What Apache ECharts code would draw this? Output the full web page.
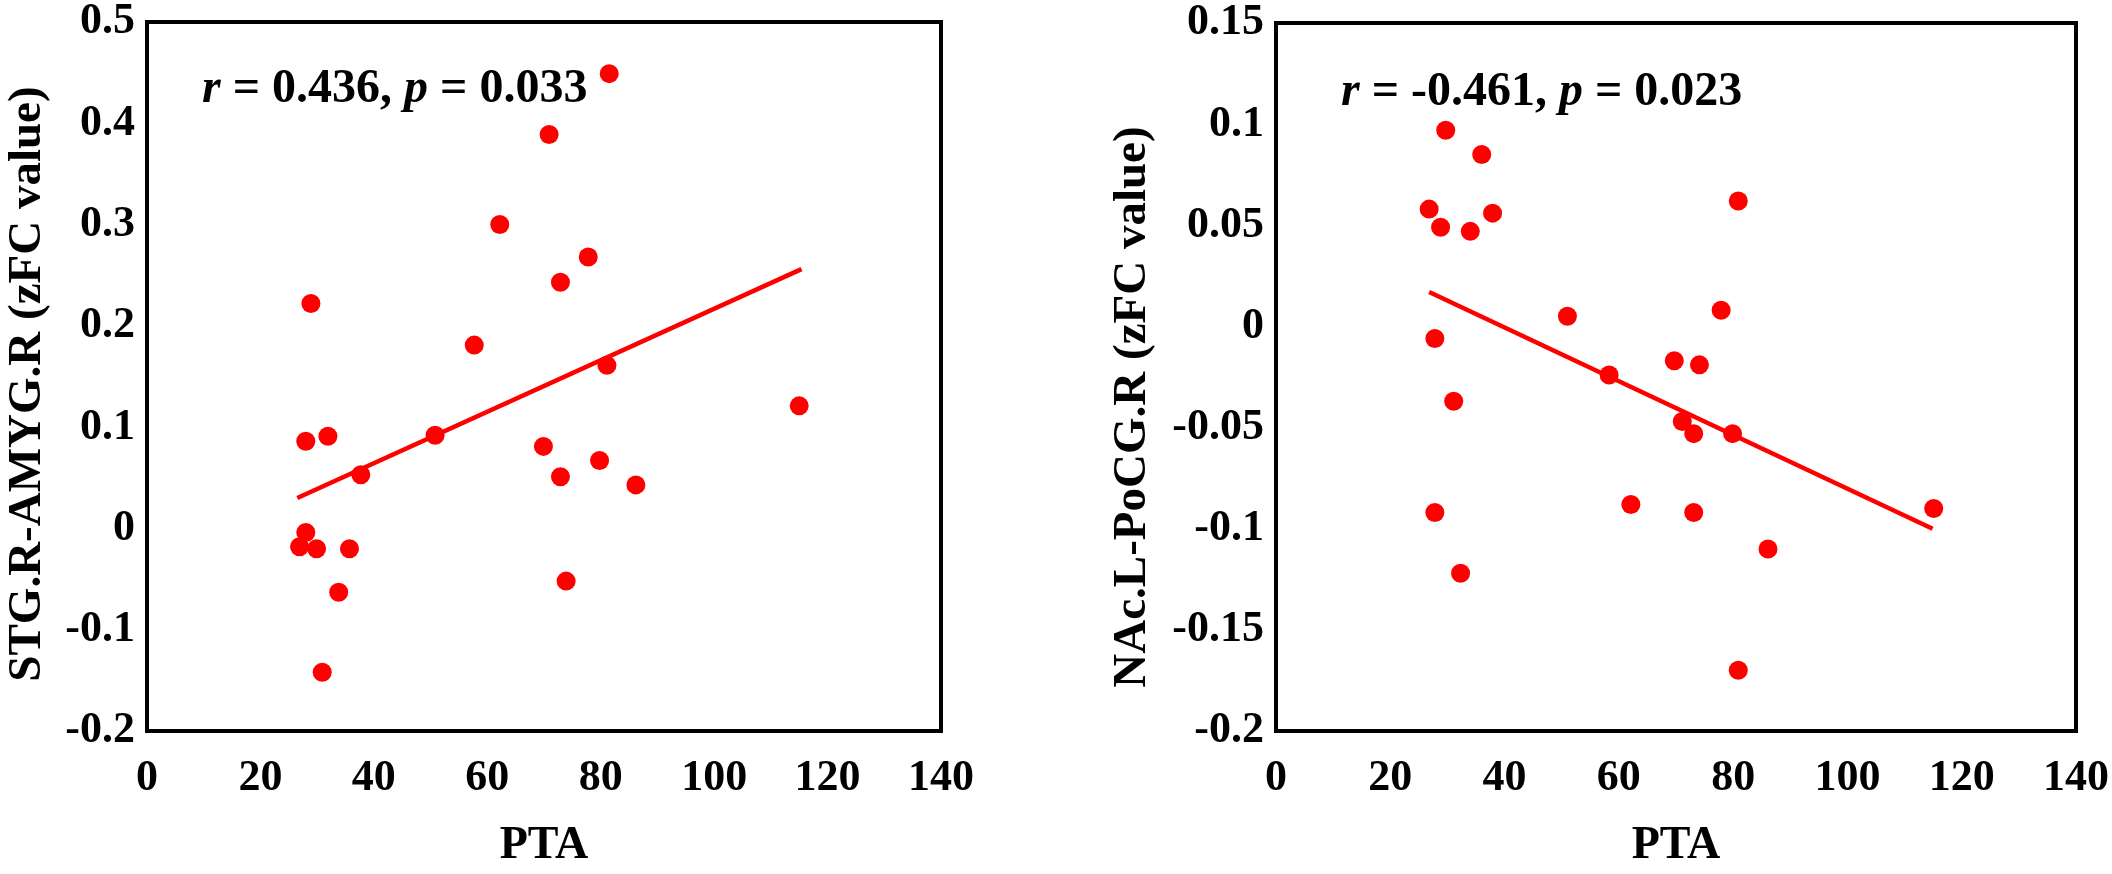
<!DOCTYPE html>
<html>
<head>
<meta charset="utf-8">
<script src="https://cdn.jsdelivr.net/npm/echarts@6.0.0/dist/echarts.min.js"></script>
<style>
html,body{margin:0;padding:0;background:#fff;}
#chart{width:2112px;height:874px;}
</style>
</head>
<body>
<div id="chart"></div>
<script>
// ---- data ----
const leftPTA = [81.5, 70.9, 62.2, 77.8, 72.9, 28.9, 57.7, 81.1, 28.0, 31.9, 50.8, 69.9,
                 79.8, 37.7, 72.9, 86.2, 28.0, 26.9, 29.9, 35.7, 33.8, 73.9, 30.9, 115.0];
const leftZFC = [0.449, 0.389, 0.300, 0.268, 0.243, 0.222, 0.181, 0.161, 0.086, 0.091, 0.092, 0.081,
                 0.067, 0.053, 0.051, 0.043, -0.004, -0.018, -0.020, -0.020, -0.063, -0.052, -0.142, 0.121];
const leftFitPTA = [26.5, 115.4];
const leftFitZFC = [0.030, 0.256];

const rightPTA = [29.7, 36.0, 26.8, 28.8, 34.0, 37.9, 51.0, 27.8, 31.1, 27.8, 32.3, 77.9,
                  80.9, 69.7, 74.1, 58.3, 71.1, 73.1, 79.9, 62.1, 73.1, 115.1, 86.1, 80.9];
const rightZFC = [0.097, 0.085, 0.058, 0.049, 0.047, 0.056, 0.005, -0.006, -0.037, -0.092, -0.122, 0.008,
                  0.062, -0.017, -0.019, -0.024, -0.047, -0.053, -0.053, -0.088, -0.092, -0.090, -0.110, -0.170];
const rightFitPTA = [26.8, 114.9];
const rightFitZFC = [0.017, -0.100];

const xTicks = [0, 20, 40, 60, 80, 100, 120, 140];
const leftYTicks = [-0.2, -0.1, 0, 0.1, 0.2, 0.3, 0.4, 0.5];
const rightYTicks = [-0.2, -0.15, -0.1, -0.05, 0, 0.05, 0.1, 0.15];

const leftYName = 'STG.R-AMYG.R (zFC value)';
const rightYName = 'NAc.L-PoCG.R (zFC value)';
const xName = 'PTA';
const leftStat = '{i|r} = 0.436, {i|p} = 0.033';
const rightStat = '{i|r} = -0.461, {i|p} = 0.023';

// ---- build ----
const FONT = '"Liberation Serif", "Times New Roman", serif';
const RED = '#ff0000';
const pairs = (xs, ys) => xs.map((x, i) => [x, ys[i]]);

function xAxisCfg(idx) {
  return {
    type: 'value', gridIndex: idx,
    min: xTicks[0], max: xTicks[xTicks.length - 1], interval: 20,
    name: xName, nameLocation: 'middle', nameGap: 92,
    nameTextStyle: {fontFamily: FONT, fontWeight: 'bold', fontSize: 46, color: '#000'},
    axisLine: {show: false}, axisTick: {show: false}, splitLine: {show: false},
    axisLabel: {fontFamily: FONT, fontWeight: 'bold', fontSize: 44, color: '#000', margin: 26}
  };
}
function yAxisCfg(idx, ticks, interval) {
  return {
    type: 'value', gridIndex: idx,
    min: ticks[0], max: ticks[ticks.length - 1], interval: interval,
    axisLine: {show: false}, axisTick: {show: false}, splitLine: {show: false},
    axisLabel: {fontFamily: FONT, fontWeight: 'bold', fontSize: 44, color: '#000', margin: 12}
  };
}
const statStyle = {
  fontFamily: FONT, fontWeight: 'bold', fontSize: 48, color: '#000',
  rich: {i: {fontFamily: FONT, fontWeight: 'bold', fontStyle: 'italic', fontSize: 48, color: '#000'}}
};
function yNameText(text, x, y) {
  return {
    type: 'text', x: x, y: y, rotation: Math.PI / 2, silent: true,
    style: {text: text, fontFamily: FONT, fontWeight: 'bold', fontSize: 47, fill: '#000',
            align: 'center', verticalAlign: 'middle'}
  };
}

const option = {
  animation: false,
  backgroundColor: '#fff',
  title: [
    {text: leftStat, left: 202, top: 66, padding: 0, textStyle: statStyle},
    {text: rightStat, left: 1341, top: 69, padding: 0, textStyle: statStyle}
  ],
  graphic: [
    yNameText(leftYName, 28, 384),
    yNameText(rightYName, 1133, 407)
  ],
  grid: [
    {left: 147, top: 20, width: 794, height: 717, show: true, borderColor: '#000', borderWidth: 4, backgroundColor: 'transparent'},
    {left: 1276, top: 23, width: 801, height: 716, show: true, borderColor: '#000', borderWidth: 4, backgroundColor: 'transparent'}
  ],
  xAxis: [xAxisCfg(0), xAxisCfg(1)],
  yAxis: [
    yAxisCfg(0, leftYTicks, 0.1),
    yAxisCfg(1, rightYTicks, 0.05)
  ],
  series: [
    {type: 'line', xAxisIndex: 0, yAxisIndex: 0, data: pairs(leftFitPTA, leftFitZFC),
     symbol: 'none', lineStyle: {color: RED, width: 4.5}, silent: true, z: 2},
    {type: 'scatter', xAxisIndex: 0, yAxisIndex: 0, data: pairs(leftPTA, leftZFC),
     symbol: 'circle', symbolSize: 19, itemStyle: {color: RED, opacity: 1}, z: 3},
    {type: 'line', xAxisIndex: 1, yAxisIndex: 1, data: pairs(rightFitPTA, rightFitZFC),
     symbol: 'none', lineStyle: {color: RED, width: 4.5}, silent: true, z: 2},
    {type: 'scatter', xAxisIndex: 1, yAxisIndex: 1, data: pairs(rightPTA, rightZFC),
     symbol: 'circle', symbolSize: 19, itemStyle: {color: RED, opacity: 1}, z: 3}
  ]
};

const chart = echarts.init(document.getElementById('chart'), null, {renderer: 'canvas'});
chart.setOption(option);
</script>
</body>
</html>
